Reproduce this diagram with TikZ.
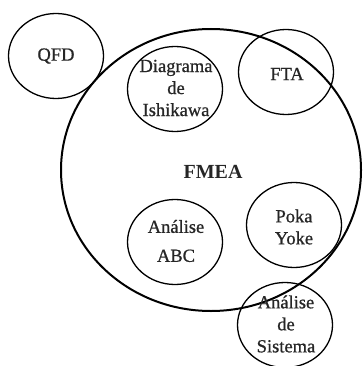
\documentclass[tikz,border=0pt]{standalone}
\usepackage{fontspec}
\setmainfont{Liberation Serif}
\newfontfamily\labelfont[FakeBold=0.8]{Liberation Serif}
\usetikzlibrary{shapes.geometric}
\begin{document}
\begin{tikzpicture}[x=1pt,y=-1pt,
  tool/.style={ellipse, draw, line width=1.3pt, inner sep=0pt,
               minimum width=95pt, minimum height=85pt},
  lbl/.style={font=\labelfont\fontsize{18.5}{22}\selectfont, align=center,
              inner sep=0pt, text=black!85}]
\useasboundingbox (0,0) rectangle (363,366);
\clip (0,0) rectangle (363,366);

% central FMEA region
\node[ellipse, draw, line width=2pt, inner sep=0pt,
      minimum width=300pt, minimum height=282pt] (fmea) at (211,170) {};
\node[lbl, font=\bfseries\fontsize{20}{24}\selectfont] (fmeatxt) at (213,172) {FMEA};

% surrounding tools
\node[tool] (qfd) at (56,56) {};
\node[lbl] (qfdtxt) at (qfd) {QFD};

\node[tool] (ishi) at (175,89) {};
\node[lbl] (ishitxt) at (176,88) {Diagrama\\de\\Ishikawa};

\node[tool] (fta) at (286,72) {};
\node[lbl] (ftatxt) at (287,74) {FTA};

\node[tool] (abc) at (175,242) {};
\node[lbl, font=\labelfont\fontsize{18.5}{29}\selectfont] (abctxt) at (176,241) {Análise\\ABC};

\node[tool] (poka) at (294,225) {};
\node[lbl] (pokatxt) at (294,227) {Poka\\Yoke};

\node[tool] (sist) at (285,325) {};
\node[lbl] (sisttxt) at (286,324) {Análise\\de\\Sistema};
\end{tikzpicture}
\end{document}
